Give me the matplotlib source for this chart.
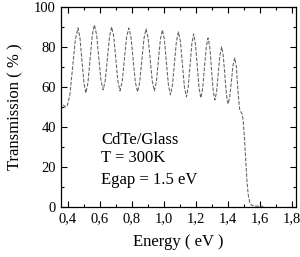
import numpy as np
import matplotlib
matplotlib.use("Agg")
import matplotlib.pyplot as plt
from matplotlib.ticker import MultipleLocator, FuncFormatter

# transmission spectrum
energy = [0.370, 0.385, 0.395,
          0.412, 0.429, 0.446, 0.463,
          0.475, 0.4875, 0.500, 0.512,
          0.525, 0.5385, 0.552, 0.565,
          0.579, 0.5925, 0.606, 0.620,
          0.633, 0.6465, 0.660, 0.673,
          0.686, 0.699, 0.712, 0.725,
          0.739, 0.7525, 0.766, 0.780,
          0.794, 0.8075, 0.821, 0.835,
          0.848, 0.8615, 0.875, 0.888,
          0.901, 0.914, 0.927, 0.940,
          0.9525, 0.965, 0.9775, 0.990,
          1.0025, 1.015, 1.0275, 1.040,
          1.0525, 1.065, 1.0775, 1.090,
          1.1025, 1.115, 1.1275, 1.140,
          1.151, 1.1625, 1.174, 1.185,
          1.196, 1.2075, 1.219, 1.230,
          1.241, 1.2525, 1.264, 1.275,
          1.286, 1.2965, 1.307, 1.318,
          1.3285, 1.339, 1.3495, 1.360,
          1.370, 1.380, 1.390, 1.400,
          1.4105, 1.421, 1.4315, 1.442,
          1.452, 1.462, 1.472, 1.480, 1.488, 1.495, 1.502, 1.510,
          1.518, 1.526, 1.535, 1.545, 1.560, 1.600, 1.620]
trans = [51.0, 50.0, 50.3,
         56.0, 69.7, 83.6, 89.5,
         84.6, 73.2, 61.9, 57.0,
         62.1, 74.0, 85.9, 91.0,
         86.1, 74.8, 63.4, 58.5,
         63.2, 74.3, 85.3, 90.0,
         85.2, 74.0, 62.8, 58.0,
         62.7, 73.8, 84.8, 89.5,
         84.7, 73.5, 62.3, 57.5,
         62.2, 73.3, 84.3, 89.0,
         84.4, 73.5, 62.7, 58.0,
         62.6, 73.3, 83.9, 88.5,
         83.6, 72.3, 60.9, 56.0,
         60.7, 71.8, 82.8, 87.5,
         82.6, 71.3, 59.9, 55.0,
         59.7, 70.8, 81.8, 86.5,
         81.7, 70.5, 59.3, 54.5,
         59.0, 69.5, 80.0, 84.5,
         79.9, 69.0, 58.2, 53.5,
         57.5, 66.8, 76.0, 80.0,
         75.7, 65.8, 55.8, 51.5,
         55.0, 63.0, 71.0, 74.5,
         70.0, 58.0, 49.0, 47.5, 46.5, 43.0, 35.0, 24.0,
         13.0, 6.0, 2.5, 1.0, 0.5, 0.3, 0.3]

labels = ["CdTe/Glass", "T = 300K", "Egap = 1.5 eV"]
label_y = [33.5, 24.5, 13.5]

plt.rcParams['font.family'] = ['Liberation Serif', 'DejaVu Serif']

fig = plt.figure(figsize=(3.0, 2.57), dpi=100)
ax = fig.add_axes([0.203, 0.195, 0.784, 0.778])

ax.plot(energy, trans, color='#606060', lw=0.75, linestyle=(0, (3.5, 1.5)))

ax.set_xlim(0.356, 1.825)
ax.set_ylim(0, 100)
ax.xaxis.set_major_locator(MultipleLocator(0.2))
ax.xaxis.set_minor_locator(MultipleLocator(0.1))
ax.yaxis.set_major_locator(MultipleLocator(20))
ax.yaxis.set_minor_locator(MultipleLocator(10))
ax.xaxis.set_major_formatter(FuncFormatter(lambda v, p: f"{v:.1f}".replace('.', ',')))
ax.yaxis.set_major_formatter(FuncFormatter(lambda v, p: f"{v:.0f}"))
ax.tick_params(which='both', direction='in', top=True, right=True, labelsize=10.5, pad=3.5)
ax.tick_params(which='major', length=4, width=0.8)
ax.tick_params(which='minor', length=2, width=0.8)
for s in ax.spines.values():
    s.set_linewidth(0.9)

ax.set_xlabel("Energy ( eV )", fontsize=12, labelpad=7)
ax.set_ylabel("Transmission ( % )", fontsize=12, labelpad=8)

for t, y in zip(labels, label_y):
    ax.text(0.606, y, t, fontsize=12, ha='left', va='center')

fig.savefig("out.png", dpi=100)
